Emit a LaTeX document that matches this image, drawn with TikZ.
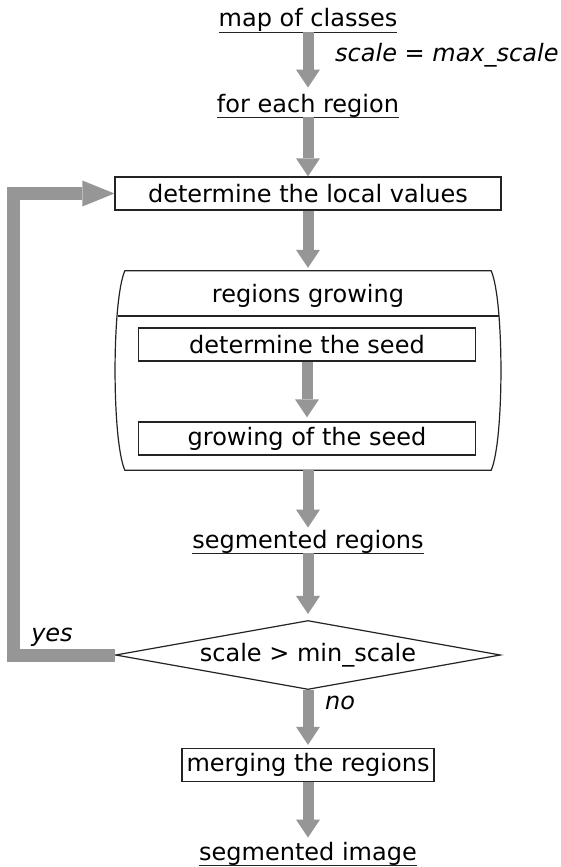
\documentclass[tikz,border=0pt]{standalone}
\usepackage{fontspec}
\setmainfont{DejaVu Sans}
\usetikzlibrary{arrows.meta,shapes.geometric}
\definecolor{agray}{RGB}{150,150,150}
\definecolor{bcol}{RGB}{35,35,35}
\begin{document}
\begin{tikzpicture}[x=1pt,y=-1pt,
  txt/.style={font=\fontsize{24pt}{28pt}\selectfont, inner sep=0pt},
  ul/.style={txt, text depth=5pt, anchor=base},
  ulline/.style={draw=bcol, line width=1.3pt},
  boxn/.style={txt, draw=bcol, line width=1.3pt, minimum height=33pt},
  lbl/.style={font=\itshape\fontsize{24pt}{28pt}\selectfont, inner sep=0pt},
  flow/.style={draw=agray, line width=11pt, -{Triangle[width=24pt,length=18pt,line width=0pt]}},
  loopar/.style={draw=agray, line width=13pt, line join=miter, -{Triangle[width=26pt,length=32pt,line width=0pt]}},
]
\useasboundingbox (0,0) rectangle (561,867);
\fill[white] (0,0) rectangle (561,867);

% nodes
\node[ul] (map) at (308,27) {map of classes};
\draw[ulline] (map.south west) -- (map.south east);
\node[lbl, anchor=base west] (sc) at (335,62) {scale\ = max\_scale};
\node[ul] (fer) at (308,112) {for each region};
\draw[ulline] (fer.south west) -- (fer.south east);
\node[boxn, minimum width=386pt] (dlv) at (308,193.5) {determine the local values};

\node[minimum width=366pt, minimum height=199pt, inner sep=0pt] (rg) at (308,370.5) {};
\draw[bcol, line width=1.2pt] (rg.north west) -- (rg.north east)
  .. controls +(13,30) and +(13,-30) .. (rg.south east) -- (rg.south west)
  .. controls +(-13,-30) and +(-13,30) .. cycle;
\draw[bcol, line width=1.2pt] (117.5,316) -- (498.5,316);
\node[txt] (rgt) at (308,296) {regions growing};
\node[boxn, minimum width=337pt] (ds) at (307,344.5) {determine the seed};
\node[boxn, minimum width=337pt] (gs) at (307,438.5) {growing of the seed};

\node[ul] (sr) at (308,548) {segmented regions};
\draw[ulline] (sr.south west) -- (sr.south east);
\node[diamond, draw=bcol, line width=1.2pt, aspect=5.6, minimum width=385pt, minimum height=69pt, txt] (dia) at (308,655) {scale > min\_scale};
\node[boxn, minimum width=252pt] (mr) at (308,765) {merging the regions};
\node[ul] (si) at (308,860) {segmented image};
\draw[ulline] (si.south west) -- (si.south east);

\node[lbl] (yes) at (52,637) {yes};
\node[lbl] (no) at (340,703) {no};

% connectors
\draw[flow, shorten >=6pt] (map.south) -- (fer.north);
\draw[flow] (fer.south) -- (dlv.north);
\draw[flow, shorten >=3pt] (dlv.south) -- (rg.north);
\draw[flow, shorten >=4pt] (ds.south) -- (gs.north);
\draw[flow, shorten >=2pt] (rg.south) -- (sr.north);
\draw[flow, shorten >=6pt] (sr.south) -- (dia.north);
\draw[flow, shorten >=3pt] (dia.south) -- (mr.north);
\draw[flow, shorten >=4pt] (mr.south) -- (si.north);

\coordinate (lc) at (13.5,655);
\draw[loopar] (dia.west) -- (lc) |- (dlv.west);
\end{tikzpicture}
\end{document}
